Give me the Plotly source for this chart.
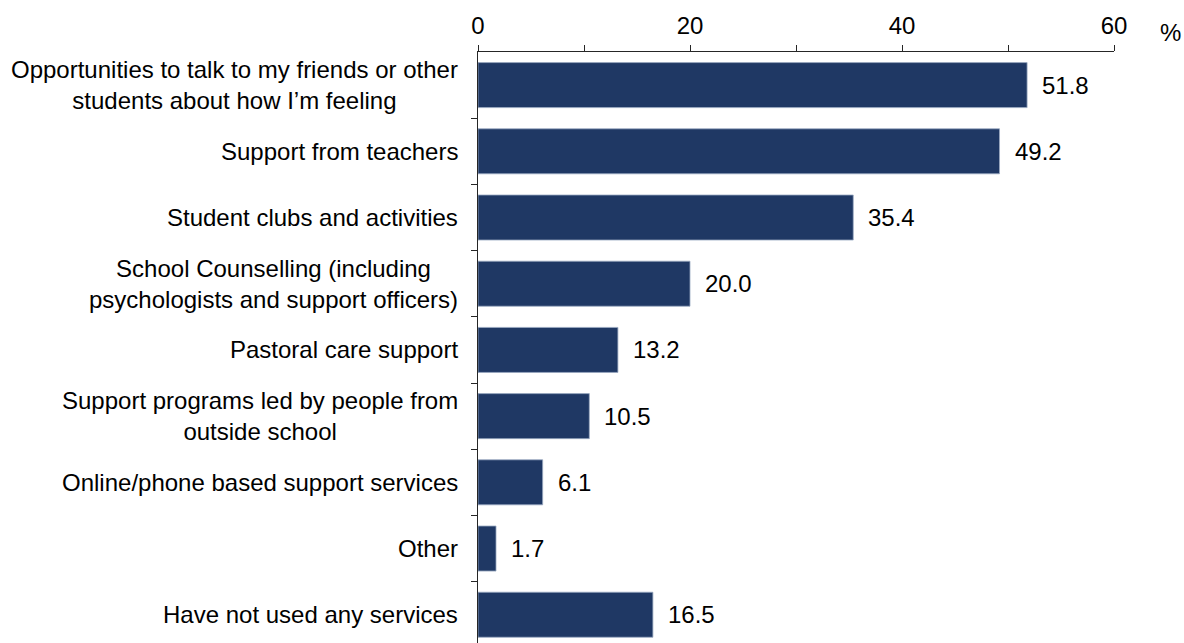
import plotly.graph_objects as go

# Services used, share of students (%)
categories = [
    "Opportunities to talk to my friends or other<br>students about how I’m feeling",
    "Support from teachers",
    "Student clubs and activities",
    "School Counselling (including<br>psychologists and support officers)",
    "Pastoral care support",
    "Support programs led by people from<br>outside school",
    "Online/phone based support services",
    "Other",
    "Have not used any services",
]
values = [51.8, 49.2, 35.4, 20.0, 13.2, 10.5, 6.1, 1.7, 16.5]

tick_vals = [0, 10, 20, 30, 40, 50, 60]
tick_text = ["0", "", "20", "", "40", "", "60"]

FONT = "Liberation Sans, Arial, sans-serif"
FS = 24
BAR = "#1F3864"
AXIS = "#262626"

keys = list(range(len(categories)))

fig = go.Figure(
    go.Bar(
        x=values,
        y=keys,
        orientation="h",
        marker=dict(color=BAR, line=dict(color="#9AA9C2", width=0.8)),
        hoverinfo="skip",
    )
)

# value labels next to each bar
for k, v in zip(keys, values):
    fig.add_annotation(
        x=v, y=k, xref="x", yref="y",
        text=f"{v:.1f}", showarrow=False,
        xanchor="left", yanchor="middle", xshift=13,
        font=dict(family=FONT, size=FS, color="#000000"),
    )

# category labels, centred lines, right edge just left of the axis
for k, c in zip(keys, categories):
    fig.add_annotation(
        x=0, y=k, xref="paper", yref="y",
        text=c, showarrow=False, align="center",
        xanchor="right", yanchor="middle", xshift=-18,
        font=dict(family=FONT, size=FS, color="#000000"),
    )

fig.add_annotation(
    x=1, y=1, xref="paper", yref="paper",
    text="%", showarrow=False, xanchor="left", yanchor="bottom",
    xshift=44, yshift=4,
    font=dict(family=FONT, size=FS, color="#000000"),
)

n = len(categories)
fig.update_layout(
    width=1184, height=643,
    margin=dict(l=478, r=70, t=52, b=0),
    paper_bgcolor="white", plot_bgcolor="white",
    bargap=0.32,
    showlegend=False,
    font=dict(family=FONT, size=FS, color="#000000"),
    xaxis=dict(
        side="top", range=[0, 60],
        tickvals=tick_vals, ticktext=tick_text,
        ticks="outside", ticklen=6, tickwidth=1.3, tickcolor=AXIS,
        showline=True, linecolor=AXIS, linewidth=1.3,
        showgrid=False, zeroline=False,
        ticklabelstandoff=1,
        tickfont=dict(family=FONT, size=FS, color="#000000"),
    ),
    yaxis=dict(
        range=[n - 1 + 0.427, -0.5],
        tickvals=[k + 0.5 for k in keys],
        showticklabels=False,
        ticks="outside", ticklen=6, tickwidth=1.3, tickcolor=AXIS,
        showline=True, linecolor=AXIS, linewidth=1.3,
        showgrid=False, zeroline=False,
    ),
)

fig.write_html("out.html")
